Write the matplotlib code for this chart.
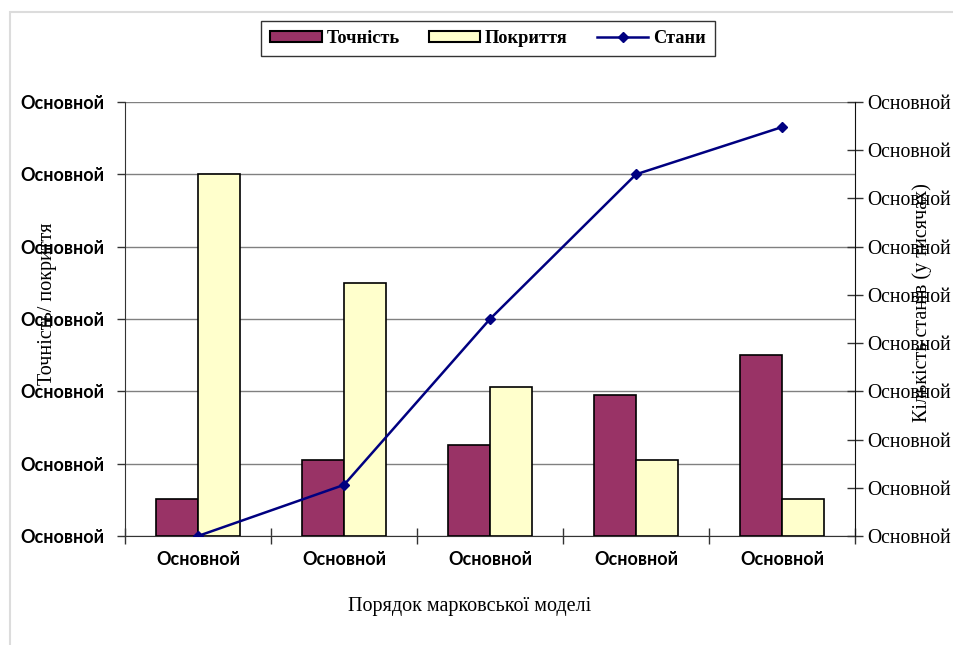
import matplotlib
matplotlib.use("Agg")
import matplotlib.pyplot as plt
from matplotlib.patches import Patch, Rectangle
from matplotlib.lines import Line2D
import numpy as np

# Data
categories = ["Основной", "Основной", "Основной", "Основной", "Основной"]
accuracy = [5.1, 10.5, 12.6, 19.5, 25.0]      # Точність
coverage = [50.0, 35.0, 20.6, 10.5, 5.1]      # Покриття
states = [0.0, 5.3, 22.5, 37.5, 42.4]         # Стани
left_ticks = [0, 10, 20, 30, 40, 50, 60]
left_labels = ["Основной"] * len(left_ticks)
right_ticks = [0, 5, 10, 15, 20, 25, 30, 35, 40, 45]
right_labels = ["Основной"] * len(right_ticks)

W, H = 954, 645
fig = plt.figure(figsize=(W / 100, H / 100), dpi=100)
fig.patch.set_facecolor("white")

# light outer chart frame
fig.add_artist(Rectangle((10 / W, -0.01), 1.0, 1 - 12 / H + 0.01,
                         transform=fig.transFigure, fill=False,
                         edgecolor="#dcdcdc", lw=1.5))

ax = fig.add_axes([125 / W, 1 - 536 / H, (855 - 125) / W, (536 - 102) / H])
x = np.arange(len(categories))
bw = 42 / 146

ax.bar(x - bw / 2, accuracy, bw, color="#993366", edgecolor="black", lw=1.2, zorder=3)
ax.bar(x + bw / 2, coverage, bw, color="#FFFFCC", edgecolor="black", lw=1.2, zorder=3)

ax.set_xlim(-0.5, len(categories) - 0.5)
ax.set_ylim(0, 60)
ax.set_yticks(left_ticks)
ax.set_yticklabels(left_labels, fontfamily="Lato", fontweight="bold", fontsize=13)
ax.tick_params(axis="y", direction="out", length=6, width=1, color="#333333", pad=9)
ax.grid(axis="y", color="#808080", lw=1, zorder=0)
ax.set_axisbelow(True)

ax.set_xticks(x)
ax.set_xticklabels(categories, fontfamily="Lato", fontweight="bold", fontsize=13)
ax.tick_params(axis="x", length=0, pad=11)
ax.set_xticks(np.arange(-0.5, len(categories)), minor=True)
ax.tick_params(axis="x", which="minor", direction="inout", length=12, width=1, color="#333333")

for s in ["top", "right"]:
    ax.spines[s].set_visible(False)
ax.spines["left"].set_color("#333333")
ax.spines["bottom"].set_color("#333333")

ax.set_ylabel("Точність/ покриття", fontfamily="Liberation Serif", fontsize=14.5)
ax.yaxis.set_label_coords(-0.093, 0.535)

ax2 = ax.twinx()
ax2.plot(x, states, color="#000080", lw=1.8, marker="D", markersize=5.5, zorder=5)
ax2.set_ylim(0, 45)
ax2.set_yticks(right_ticks)
ax2.set_yticklabels(right_labels, fontfamily="Liberation Serif", fontsize=14.2)
ax2.tick_params(axis="y", direction="inout", length=12, width=1, color="#333333", pad=3)
for s in ["top", "left", "bottom"]:
    ax2.spines[s].set_visible(False)
ax2.spines["right"].set_color("#111111")
ax2.set_ylabel("Кількість станів (у тисячах)", fontfamily="Liberation Serif", fontsize=14.5)
ax2.yaxis.set_label_coords(1.079, 0.537)

fig.text(470 / W, 1 - 607 / H, "Порядок марковської моделі",
         fontfamily="Liberation Serif", fontsize=14.5, ha="center", va="center")

handles = [
    Patch(facecolor="#993366", edgecolor="black", lw=1.5),
    Patch(facecolor="#FFFFCC", edgecolor="black", lw=1.5),
    Line2D([0], [0], color="#000080", lw=1.8, marker="D", markersize=5),
]
leg = fig.legend(handles, ["Точність", "Покриття", "Стани"], loc="center",
                 bbox_to_anchor=(488 / W, 1 - 38.5 / H), ncol=3, frameon=True,
                 fancybox=False, edgecolor="black", handlelength=2.8,
                 handleheight=0.55, columnspacing=1.6, handletextpad=0.25,
                 borderpad=0.5, borderaxespad=0,
                 prop={"family": "Liberation Serif", "weight": "bold", "size": 13.2})
leg.get_frame().set_linewidth(1.0)

fig.savefig("out.png", dpi=100)
